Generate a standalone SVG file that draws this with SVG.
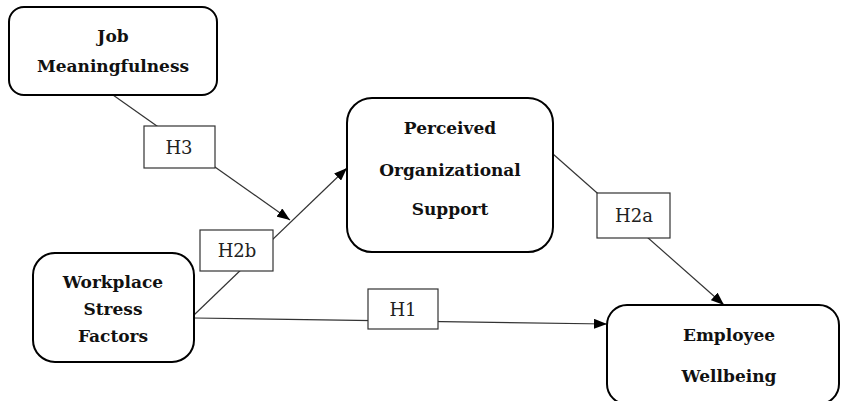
<svg xmlns="http://www.w3.org/2000/svg" width="842" height="401" viewBox="0 0 842 401">
<style>
.node rect{fill:#fff;stroke:#000;stroke-width:2}
.node text{font-family:"DejaVu Serif","Liberation Serif",serif;font-weight:bold;font-size:17px;fill:#111;text-anchor:middle}
.conn line{stroke:#333;stroke-width:1.2;fill:none}
.lbl rect{fill:#fff;stroke:#333;stroke-width:1.2}
.lbl text{font-family:"DejaVu Serif","Liberation Serif",serif;font-size:18px;fill:#222;text-anchor:middle}
</style>
<defs>
<marker id="arr" viewBox="0 0 13 10" refX="13" refY="5" markerWidth="13" markerHeight="10" markerUnits="userSpaceOnUse" orient="auto">
<path d="M0,0 L13,5 L0,10 z" fill="#000"/>
</marker>
</defs>
<rect width="842" height="401" fill="#fff"/>
<g id="connectors" class="conn">
<line x1="113" y1="95" x2="290" y2="220" marker-end="url(#arr)"/>
<line x1="194" y1="315" x2="347" y2="168" marker-end="url(#arr)"/>
<line x1="194" y1="318" x2="607" y2="324" marker-end="url(#arr)"/>
<line x1="553" y1="154" x2="724" y2="305" marker-end="url(#arr)"/>
</g>
<g id="labels" class="lbl">
<g id="h3"><rect x="144" y="126" width="71" height="42"/><text x="179" y="154">H3</text></g>
<g id="h2b"><rect x="200" y="230" width="73" height="41"/><text x="237" y="257">H2b</text></g>
<g id="h1"><rect x="368" y="289" width="70" height="40"/><text x="403" y="316">H1</text></g>
<g id="h2a"><rect x="597" y="193" width="73" height="45"/><text x="634" y="222">H2a</text></g>
</g>
<g id="job-meaningfulness" class="node">
<rect x="9" y="7" width="208" height="88" rx="15"/>
<text x="113" y="42">Job</text>
<text x="113" y="72">Meaningfulness</text>
</g>
<g id="perceived-organizational-support" class="node">
<rect x="347" y="98" width="206" height="154" rx="25"/>
<text x="450" y="134">Perceived</text>
<text x="450" y="176">Organizational</text>
<text x="450" y="215">Support</text>
</g>
<g id="workplace-stress-factors" class="node">
<rect x="33" y="253" width="161" height="109" rx="22"/>
<text x="113" y="288">Workplace</text>
<text x="113" y="315">Stress</text>
<text x="113" y="342">Factors</text>
</g>
<g id="employee-wellbeing" class="node">
<rect x="607" y="305" width="232" height="99" rx="20"/>
<text x="729" y="341">Employee</text>
<text x="729" y="382">Wellbeing</text>
</g>
</svg>
